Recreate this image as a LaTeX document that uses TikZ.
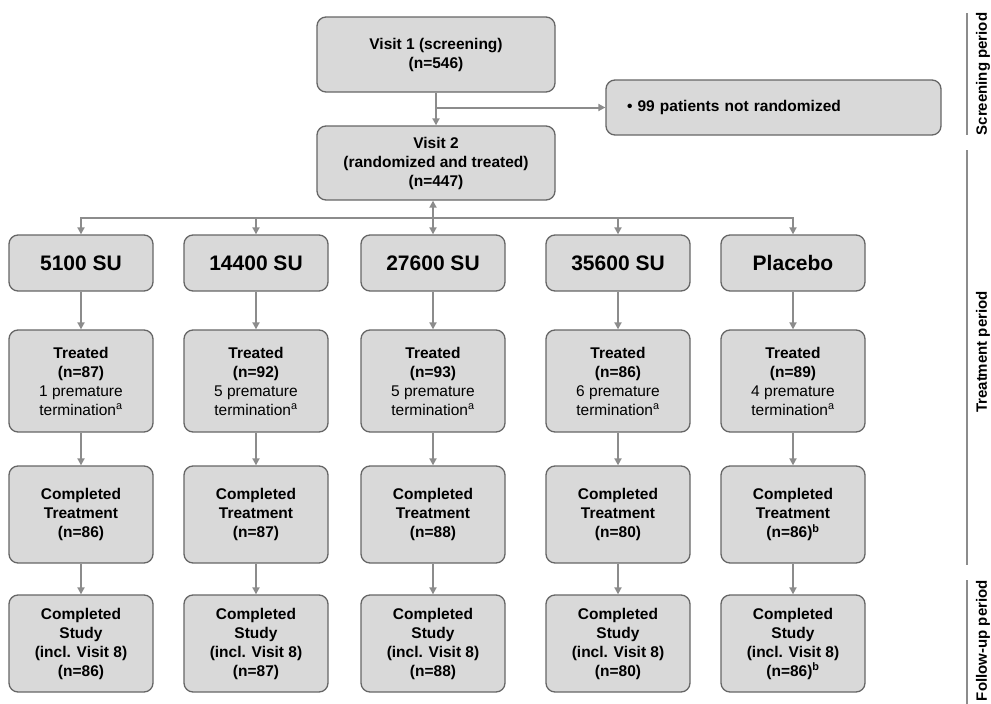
\documentclass[tikz,border=0pt]{standalone}
\usepackage{fontspec}
\setmainfont{Liberation Sans}
\usetikzlibrary{arrows.meta}

\definecolor{boxfill}{HTML}{D9D9D9}
\definecolor{boxline}{HTML}{666666}
\definecolor{linkgray}{HTML}{8C8C8C}

\tikzset{
    box/.style={draw=boxline, fill=boxfill, line width=1.3pt, rounded corners=9pt,
        align=center, inner sep=0pt, minimum width=144, font=\bfseries\fontsize{15.5}{19}\selectfont},
    dosebox/.style={box, minimum height=56, font=\bfseries\fontsize{21}{25}\selectfont},
    link/.style={draw=linkgray, line width=2pt, -{Triangle[length=7pt,width=7pt]}},
    periodrule/.style={draw=linkgray, line width=2pt},
    periodlabel/.style={rotate=90, inner sep=0pt, font=\bfseries\fontsize{15}{18}\selectfont}
}

\begin{document}
\begin{tikzpicture}[x=1pt, y=-1pt]
    \useasboundingbox (0,0) rectangle (991,704);

    % visits
    \node[box, minimum width=238, minimum height=75] (visit1) at (436,54.5) {Visit 1 (screening)\\(n=546)};
    \node[box, minimum width=238, minimum height=74] (visit2) at (436,163) {Visit 2\\(randomized and treated)\\(n=447)};
    \node[box, minimum width=335, minimum height=55, text width=293, align=left] (notrand) at (773.5,107.5) {\textbullet\ 99 patients not randomized};
    \coordinate (split) at (436,107.5);
    \coordinate (branch) at (436,218);

    % doses
    \node[dosebox] (dose1) at (81,263) {5100 SU};
    \node[dosebox] (dose2) at (256,263) {14400 SU};
    \node[dosebox] (dose3) at (433,263) {27600 SU};
    \node[dosebox] (dose4) at (618,263) {35600 SU};
    \node[dosebox] (dose5) at (793,263) {Placebo};

    % treated
    \node[box, minimum height=102] (treated1) at (81,381) {Treated\\(n=87)\\\mdseries 1 premature\\\mdseries termination\textsuperscript{a}};
    \node[box, minimum height=102] (treated2) at (256,381) {Treated\\(n=92)\\\mdseries 5 premature\\\mdseries termination\textsuperscript{a}};
    \node[box, minimum height=102] (treated3) at (433,381) {Treated\\(n=93)\\\mdseries 5 premature\\\mdseries termination\textsuperscript{a}};
    \node[box, minimum height=102] (treated4) at (618,381) {Treated\\(n=86)\\\mdseries 6 premature\\\mdseries termination\textsuperscript{a}};
    \node[box, minimum height=102] (treated5) at (793,381) {Treated\\(n=89)\\\mdseries 4 premature\\\mdseries termination\textsuperscript{a}};

    % completed treatment
    \node[box, minimum height=97] (cotreat1) at (81,514.5) {Completed\\Treatment\\(n=86)};
    \node[box, minimum height=97] (cotreat2) at (256,514.5) {Completed\\Treatment\\(n=87)};
    \node[box, minimum height=97] (cotreat3) at (433,514.5) {Completed\\Treatment\\(n=88)};
    \node[box, minimum height=97] (cotreat4) at (618,514.5) {Completed\\Treatment\\(n=80)};
    \node[box, minimum height=97] (cotreat5) at (793,514.5) {Completed\\Treatment\\(n=86)\textsuperscript{b}};

    % completed study
    \node[box, minimum height=97] (costudy1) at (81,643.5) {Completed\\Study\\(incl. Visit 8)\\(n=86)};
    \node[box, minimum height=97] (costudy2) at (256,643.5) {Completed\\Study\\(incl. Visit 8)\\(n=87)};
    \node[box, minimum height=97] (costudy3) at (433,643.5) {Completed\\Study\\(incl. Visit 8)\\(n=88)};
    \node[box, minimum height=97] (costudy4) at (618,643.5) {Completed\\Study\\(incl. Visit 8)\\(n=80)};
    \node[box, minimum height=97] (costudy5) at (793,643.5) {Completed\\Study\\(incl. Visit 8)\\(n=86)\textsuperscript{b}};

    % arrows
    \draw[link] (visit1) -- (visit2);
    \draw[link] (split) -- (notrand.west);
    \draw[link, {Triangle[length=7pt,width=7pt]}-{Triangle[length=7pt,width=7pt]}] (visit2.south -| dose3) -- (dose3.north);
    \draw[link] (branch) -| (dose1.north);
    \draw[link] (branch) -| (dose2.north);
    \draw[link] (branch) -| (dose4.north);
    \draw[link] (branch) -| (dose5.north);

    \draw[link] (dose1) -- (treated1);
    \draw[link] (dose2) -- (treated2);
    \draw[link] (dose3) -- (treated3);
    \draw[link] (dose4) -- (treated4);
    \draw[link] (dose5) -- (treated5);

    \draw[link] (treated1) -- (cotreat1);
    \draw[link] (treated2) -- (cotreat2);
    \draw[link] (treated3) -- (cotreat3);
    \draw[link] (treated4) -- (cotreat4);
    \draw[link] (treated5) -- (cotreat5);

    \draw[link] (cotreat1) -- (costudy1);
    \draw[link] (cotreat2) -- (costudy2);
    \draw[link] (cotreat3) -- (costudy3);
    \draw[link] (cotreat4) -- (costudy4);
    \draw[link] (cotreat5) -- (costudy5);

    % periods
    \draw[periodrule] (967,13) -- (967,135);
    \node[periodlabel] (screening) at (983,74) {Screening period};
    \draw[periodrule] (967,150) -- (967,565);
    \node[periodlabel] (treatment) at (983,352) {Treatment period};
    \draw[periodrule] (967,580) -- (967,704);
    \node[periodlabel, anchor=east] (followup) at (983,580) {Follow-up period};
\end{tikzpicture}
\end{document}
